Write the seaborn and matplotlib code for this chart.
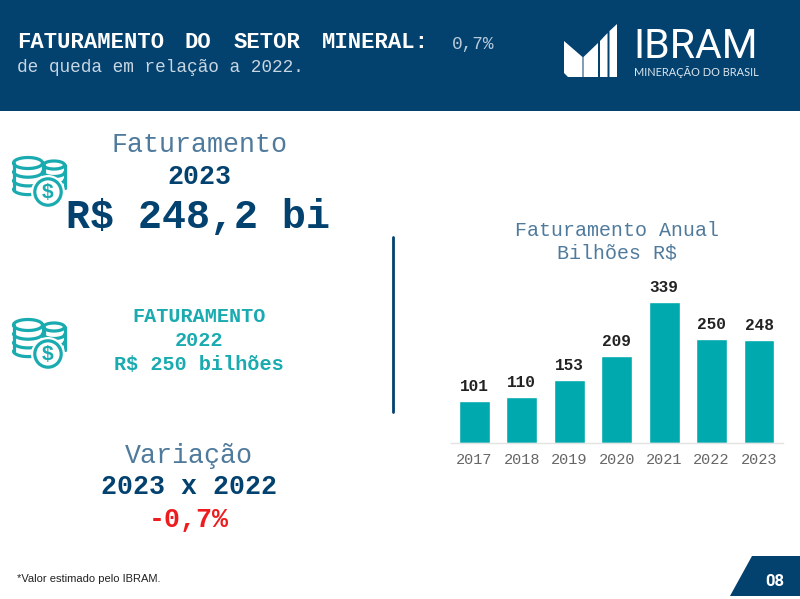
import numpy as np
import pandas as pd
import matplotlib
matplotlib.use("Agg")
import matplotlib.pyplot as plt
from matplotlib.patches import Rectangle, Polygon, Circle
import seaborn as sns

years = ["2017", "2018", "2019", "2020", "2021", "2022", "2023"]
revenue = [101, 110, 153, 209, 339, 250, 248]

NAVY = "#03416F"
TEAL = "#00A9AD"
TEAL_TXT = "#1AABB0"
STEEL = "#4F7A9C"
MONO = "Liberation Mono"

sns.set_theme(style="white")
plt.rcParams["font.family"] = [MONO, "DejaVu Sans"]

fig = plt.figure(figsize=(8.0, 5.99), dpi=100, facecolor="white")

# Bar chart area
W, H = 800, 599
ax = fig.add_axes([450.7 / W, 1 - 443 / H, 332 / W, 180 / H])
df = pd.DataFrame({"year": years, "revenue": revenue})
sns.barplot(data=df, x="year", y="revenue", color=TEAL, saturation=1, width=0.65, ax=ax)
ax.set_ylim(0, 434)
ax.set_xlim(-0.5, 6.5)
ax.set_xlabel("")
ax.set_ylabel("")
ax.set_yticks([])
ax.patch.set_alpha(0)
for s in ["top", "left", "right"]:
    ax.spines[s].set_visible(False)
ax.spines["bottom"].set_color("#E3E3E3")
ax.spines["bottom"].set_linewidth(1)
ax.tick_params(axis="x", length=0, pad=7, labelsize=11, labelcolor="#666666")
ax.bar_label(ax.containers[0], labels=[str(v) for v in revenue], padding=5,
             fontsize=11.6, fontweight="bold", color="#222222", family=MONO)

# Page overlay in pixel coordinates
pg = fig.add_axes([0, 0, 1, 1], zorder=5)
pg.set_xlim(0, W)
pg.set_ylim(H, 0)
pg.axis("off")
pg.patch.set_alpha(0)

pg.add_patch(Rectangle((0, 0), W, 111, color=NAVY, lw=0))

def t(x, y, s, size, color, weight="normal", ha="center", family=MONO):
    return pg.text(x, y, s, fontsize=size, color=color, fontweight=weight, ha=ha,
                   va="center", family=family)

# Header
for x, word in [(17, "FATURAMENTO"), (185, "DO"), (234, "SETOR"), (322, "MINERAL:")]:
    t(x, 43, word, 16, "white", "bold", "left")
t(452, 45, "0,7%", 12.8, "#B9CBD9", ha="left")
t(17, 67, "de queda em relação a 2022.", 12.8, "#C8D6E2", ha="left")

# Logo
for poly in [
    [(564, 41), (582.5, 57), (582.5, 77), (568, 77), (564, 73)],
    [(583.5, 57), (598, 43), (598, 77), (583.5, 77)],
    [(600, 41), (607.5, 33), (607.5, 77), (600, 77)],
    [(609.5, 31), (617, 24), (617, 77), (609.5, 77)],
]:
    pg.add_patch(Polygon(poly, closed=True, color="white", lw=0))
t(633, 46.5, "IBRAM", 29.5, "white", ha="left", family="Roboto")
t(634, 72, "MINERAÇÃO DO BRASIL", 7.9, "#DCE6EE", ha="left", family="Lato")

# Coin icons
def coins(x0, y0):
    lw = 2.3
    th = np.linspace(0, 2 * np.pi, 80)
    arc = np.linspace(0, np.pi, 40)

    def stack(cx, top, rx, ry, n, step, z):
        xs = np.r_[cx - rx, cx + rx * np.cos(arc[::-1]), cx + rx]
        ys = np.r_[top, top + (n - 1) * step + ry * np.sin(arc[::-1]), top]
        pg.fill(xs, ys, color="white", lw=0, zorder=z)
        pg.fill(cx + rx * np.cos(th), top + ry * np.sin(th), color="white", lw=0, zorder=z)
        pg.plot(cx + rx * np.cos(th), top + ry * np.sin(th), color=TEAL_TXT, lw=lw, zorder=z + 0.1)
        for i in range(1, n):
            pg.plot(cx + rx * np.cos(arc), top + i * step + ry * np.sin(arc), color=TEAL_TXT,
                    lw=lw, zorder=z + 0.1)
        for sx in (cx - rx, cx + rx):
            pg.plot([sx, sx], [top, top + (n - 1) * step], color=TEAL_TXT, lw=lw, zorder=z + 0.1)

    stack(x0 + 41, y0 + 8, 10.5, 4, 4, 7.5, 2)
    stack(x0 + 15, y0 + 6, 14.5, 5.5, 4, 8.7, 3)
    pg.add_patch(Circle((x0 + 35, y0 + 35), 17, color="white", lw=0, zorder=4))
    pg.add_patch(Circle((x0 + 35, y0 + 35), 13.2, fc="white", ec=TEAL_TXT, lw=2.3, zorder=4.1))
    pg.text(x0 + 35, y0 + 35, "$", fontsize=15, fontweight="bold", color=TEAL_TXT, ha="center",
            va="center", family="Liberation Sans", zorder=5)

coins(13, 157)
coins(13, 319)

# Left column
t(199, 145, "Faturamento", 19.2, STEEL)
t(199, 177, "2023", 19.2, NAVY, "bold")
t(198, 217, "R$ 248,2 bi", 28.8, NAVY, "bold")
t(199, 316, "FATURAMENTO", 14.5, TEAL_TXT, "bold")
t(199, 341, "2022", 14.5, TEAL_TXT, "bold")
t(199, 365, "R$ 250 bilhões", 14.5, TEAL_TXT, "bold")
t(189, 456, "Variação", 19.2, STEEL)
t(189, 487, "2023 x 2022", 19.2, NAVY, "bold")
t(189, 520, "-0,7%", 19.2, "#EE1C1C", "bold")

# Divider
pg.plot([393, 393], [237, 412], color=NAVY, lw=2)

# Chart title
t(617, 230, "Faturamento Anual", 14.4, STEEL)
t(617, 253, "Bilhões R$", 14.4, STEEL)

# Footer
t(17, 578.5, "*Valor estimado pelo IBRAM.", 8, "#222222", ha="left", family="Liberation Sans")
pg.add_patch(Polygon([(752, 556), (800, 556), (800, 596), (730, 596)], closed=True, color=NAVY, lw=0))
t(775, 581, "08", 12, "white", "bold", family="Roboto")

fig.savefig("out.png", dpi=100)
